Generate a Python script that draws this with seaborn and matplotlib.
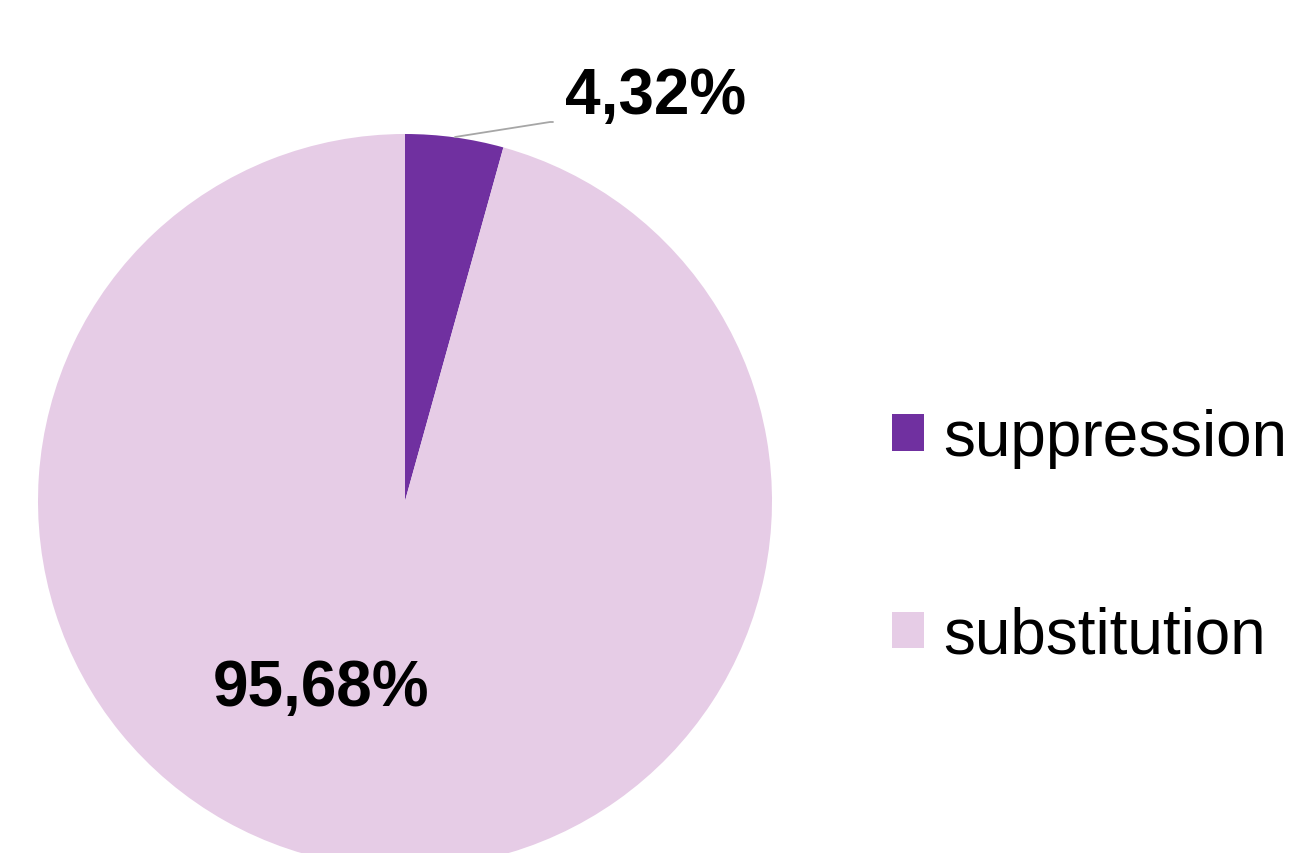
import matplotlib
matplotlib.use("Agg")
import matplotlib.pyplot as plt
import seaborn as sns

# data
categories = ["suppression", "substitution"]
shares = [4.32, 95.68]
colors = ["#7030A0", "#E6CCE6"]

sns.set_style("white")
plt.rcParams["font.family"] = ["Liberation Sans", "DejaVu Sans"]
plt.rcParams["text.color"] = "black"

fig = plt.figure(figsize=(12.93, 8.54), dpi=100)
ax = fig.add_axes([0, 0, 1, 1])

# work in pixel-like units so the pie lands where the original has it
wedges, _ = ax.pie(shares, colors=colors, startangle=90, counterclock=False,
                   radius=367, center=(405, 352), frame=True,
                   wedgeprops=dict(linewidth=0))
ax.set_xlim(0, 1293)
ax.set_ylim(0, 854)
ax.set_aspect("equal")
ax.axis("off")

def fmt(v):
    return f"{v:.2f}".replace(".", ",") + "%"

# labels
ax.plot([455, 550, 553], [716, 731, 731], color="#A6A6A6", lw=1.3)
ax.text(656, 757, fmt(shares[0]), ha="center", va="center",
        fontsize=46, fontweight="bold", color="black")
ax.text(321, 165, fmt(shares[1]), ha="center", va="center",
        fontsize=46, fontweight="bold", color="black")

leg = ax.legend(wedges, categories, loc="center left",
                bbox_to_anchor=(892 / 1293, 1 - 538 / 854),
                frameon=False, fontsize=46, handlelength=0.5,
                handleheight=0.5, handletextpad=0.3, labelspacing=2.15,
                borderpad=0, borderaxespad=0)
for t in leg.get_texts():
    t.set_color("black")

fig.savefig("out.png", dpi=100)
